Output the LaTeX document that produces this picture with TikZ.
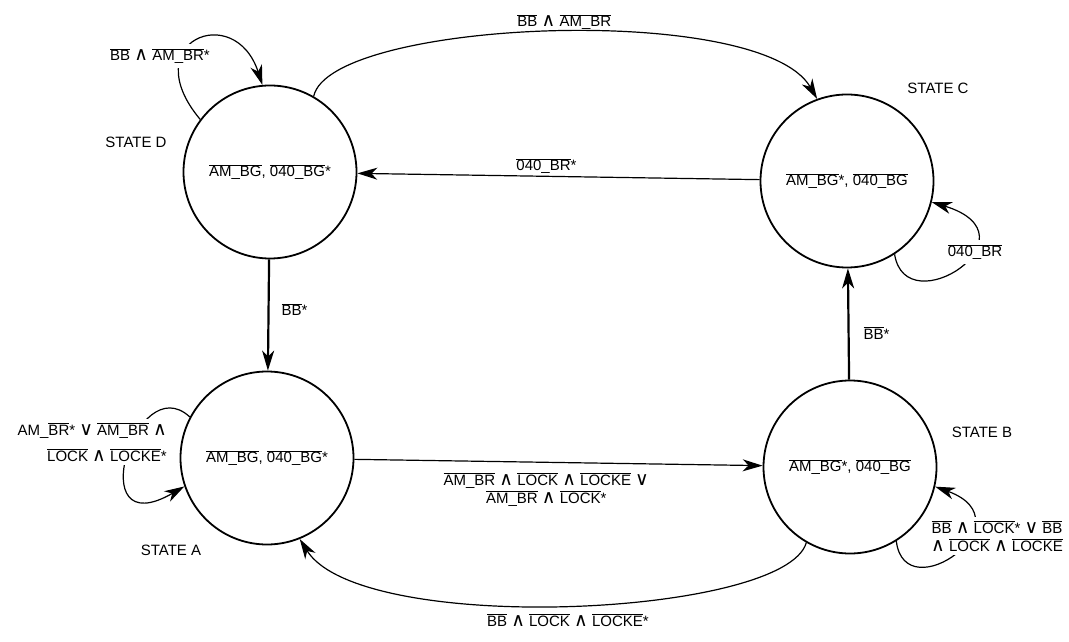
\documentclass[tikz,border=0pt]{standalone}
\usepackage{fontspec}
\setmainfont{Liberation Sans}
\newfontfamily\opfont[Scale=1.25]{DejaVu Sans}
\usetikzlibrary{arrows.meta}
\newcommand{\ovl}[1]{$\overline{\mbox{#1}}$}
\newcommand{\andop}{{\opfont ∧}}
\newcommand{\orop}{{\opfont ∨}}

\begin{document}
\begin{tikzpicture}[
  x=1pt,y=1pt,
  font=\fontsize{15}{18}\selectfont,
  state/.style={draw,circle,line width=1.8pt,minimum size=173pt,inner sep=0pt},
  tag/.style={inner sep=2pt},
  lbl/.style={inner sep=2pt,align=center},
  blank/.style={lbl,fill=white,inner sep=4pt},
  arr/.style={-{Stealth[length=20pt,width=12pt,inset=6pt]},line width=1.2pt},
  barr/.style={arr,line width=2.2pt}
]
\useasboundingbox (0,0) rectangle (1069,641);

% states
\node[state] (stD) at (270,469) {\ovl{AM\_BG}, \ovl{040\_BG}*};
\node[state] (stC) at (847,460) {\ovl{AM\_BG}*, \ovl{040\_BG}};
\node[state] (stA) at (267,183) {\ovl{AM\_BG}, \ovl{040\_BG}*};
\node[state] (stB) at (850,174) {\ovl{AM\_BG}*, \ovl{040\_BG}};

\node[tag] (tagD) at (136,499) {STATE D};
\node[tag] (tagC) at (938,553) {STATE C};
\node[tag] (tagA) at (171,91) {STATE A};
\node[tag] (tagB) at (982,209) {STATE B};

% transitions
\draw[arr] (stC) -- node[lbl,above,pos=0.53] (lCD) {\ovl{040\_BR}*} (stD);
\draw[arr] (stA) -- node[lbl,below=8pt,pos=0.47] (lAB)
  {\ovl{AM\_BR} \andop{} \ovl{LOCK} \andop{} \ovl{LOCKE} \orop\\
   \ovl{AM\_BR} \andop{} \ovl{LOCK}*} (stB);
\draw[barr] (stD) -- node[lbl,right=10pt,pos=0.45] (lDA) {\ovl{BB}*} (stA);
\draw[barr] (stB) -- node[lbl,right=12pt,pos=0.42] (lBC) {\ovl{BB}*} (stC);
\draw[arr] (stD.60) .. controls +(78:78) and +(120:113) ..
  node[lbl,above,pos=0.52] (lDC) {\ovl{BB} \andop{} \ovl{AM\_BR}} (stC.110);
\draw[arr] (stB.240) .. controls +(254:77) and +(302:115) ..
  node[lbl,below=6pt,pos=0.5] (lBA) {\ovl{BB} \andop{} \ovl{LOCK} \andop{} \ovl{LOCKE}*} (stA.292);

% self loops
\draw[arr] (stD.143) .. controls +(130:102) and +(108:89) .. (stD.95);
\draw[arr] (stC.303) .. controls +(279:72) and +(343:115) .. (stC.346);
\draw[arr] (stB.302) .. controls +(277:71) and +(340:101) .. (stB.347);
\draw[arr] (stA.152) .. controls +(137:74) and +(210:120) .. (stA.199);

\node[blank] (lDD) at (160,585) {\ovl{BB} \andop{} \ovl{AM\_BR}*};
\node[blank] (lCC) at (975,389) {\ovl{040\_BR}};
\node[blank] (lBB) at (997,105)
  {\ovl{BB} \andop{} \ovl{LOCK}* \orop{} \ovl{BB}\\
   \andop{} \ovl{LOCK} \andop{} \ovl{LOCKE}};
\node[blank,align=right,anchor=east] (lAA) at (171,199)
  {AM\_\ovl{BR}* \orop{} \ovl{AM\_BR} \andop\\[8pt]
   \ovl{LOCK} \andop{} \ovl{LOCKE}*};
\end{tikzpicture}
\end{document}
